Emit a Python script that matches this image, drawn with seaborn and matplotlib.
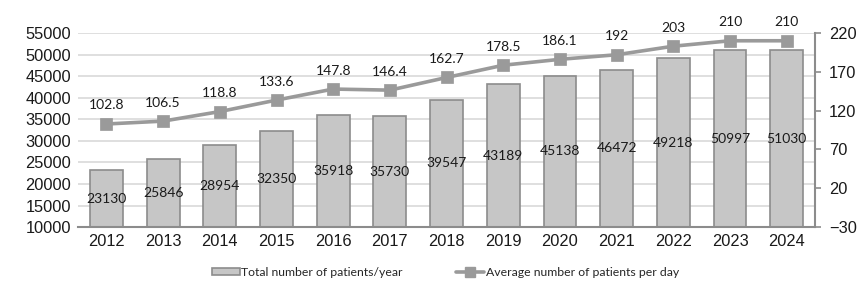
import pandas as pd
import matplotlib
matplotlib.use('Agg')
import matplotlib.pyplot as plt
import seaborn as sns
from matplotlib.lines import Line2D
from matplotlib.patches import Patch

# Data
years = ['2012', '2013', '2014', '2015', '2016', '2017', '2018',
         '2019', '2020', '2021', '2022', '2023', '2024']
total_patients = [23130, 25846, 28954, 32350, 35918, 35730, 39547,
                  43189, 45138, 46472, 49218, 50997, 51030]
avg_per_day = [102.8, 106.5, 118.8, 133.6, 147.8, 146.4, 162.7,
               178.5, 186.1, 192, 203, 210, 210]
avg_labels = ['102.8', '106.5', '118.8', '133.6', '147.8', '146.4', '162.7',
              '178.5', '186.1', '192', '203', '210', '210']


def main():
    df = pd.DataFrame({'Year': years, 'Total': total_patients, 'Avg': avg_per_day})

    sns.set_theme(style="white")
    plt.rcParams['font.family'] = ['Liberation Sans', 'DejaVu Sans']
    label_font = ['Lato', 'DejaVu Sans']

    fig = plt.figure(figsize=(8.68, 3.0), dpi=100)
    ax = fig.add_axes([0.09, 0.243, 0.849, 0.647])

    bar_color = '#c6c6c6'
    edge_color = '#8c8c8c'
    line_color = '#9a9a9a'

    sns.barplot(data=df, x='Year', y='Total', ax=ax, color=bar_color,
                edgecolor=edge_color, linewidth=1.2, width=0.58,
                saturation=1, zorder=2)
    ax.set_ylim(10000, 55000)
    ax.set_yticks(range(10000, 55001, 5000))
    ax.set_xlim(-0.5, len(years) - 0.5)
    ax.set_xlabel('')
    ax.set_ylabel('')
    ax.yaxis.grid(True, color='#d9d9d9', linewidth=1.2, zorder=0)
    ax.set_axisbelow(True)
    for s in ['top', 'left', 'right']:
        ax.spines[s].set_visible(False)
    ax.spines['bottom'].set_color('#8c8c8c')
    ax.spines['bottom'].set_linewidth(1.5)
    ax.tick_params(axis='both', length=0, labelsize=11.8, colors='#1a1a1a', pad=5)

    # bar value labels at mid height of each bar
    for i, v in enumerate(total_patients):
        ax.text(i, (v + 10000) / 2, str(v), ha='center', va='center',
                fontsize=10, family=label_font, color='#1a1a1a', zorder=5)

    # secondary axis
    ax2 = ax.twinx()
    sns.pointplot(data=df, x='Year', y='Avg', ax=ax2, color=line_color,
                  markers='s', markersize=6.5, linewidth=2.6, zorder=4)
    ax2.set_ylim(-30, 220)
    ax2.set_yticks(range(-30, 221, 50))
    ax2.set_xlim(-0.5, len(years) - 0.5)
    ax2.set_xlabel('')
    ax2.set_ylabel('')
    ax2.grid(False)
    for s in ['top', 'left', 'bottom']:
        ax2.spines[s].set_visible(False)
    ax2.spines['right'].set_color('#8c8c8c')
    ax2.spines['right'].set_linewidth(1.5)
    ax2.tick_params(axis='y', length=4, width=1.2, color='#8c8c8c',
                    labelsize=11.8, labelcolor='#1a1a1a', pad=6)

    for i, (v, lab) in enumerate(zip(avg_per_day, avg_labels)):
        ax2.annotate(lab, (i, v), xytext=(0, 9), textcoords='offset points',
                     ha='center', va='bottom', fontsize=10,
                     family=label_font, color='#1a1a1a')

    handles = [Patch(facecolor=bar_color, edgecolor=edge_color, linewidth=1.2),
               Line2D([0], [0], color=line_color, linewidth=2.6, marker='s', markersize=6.5)]
    fig.legend(handles, ['Total number of patients/year', 'Average number of patients per day'],
               loc='center', bbox_to_anchor=(0.513, 0.093), ncol=2, frameon=False,
               prop={'family': label_font, 'size': 8.8},
               handlelength=2.3, handleheight=0.5, handletextpad=0.1, columnspacing=4.4)

    fig.savefig('out.png', dpi=100)


if __name__ == "__main__":
    main()
